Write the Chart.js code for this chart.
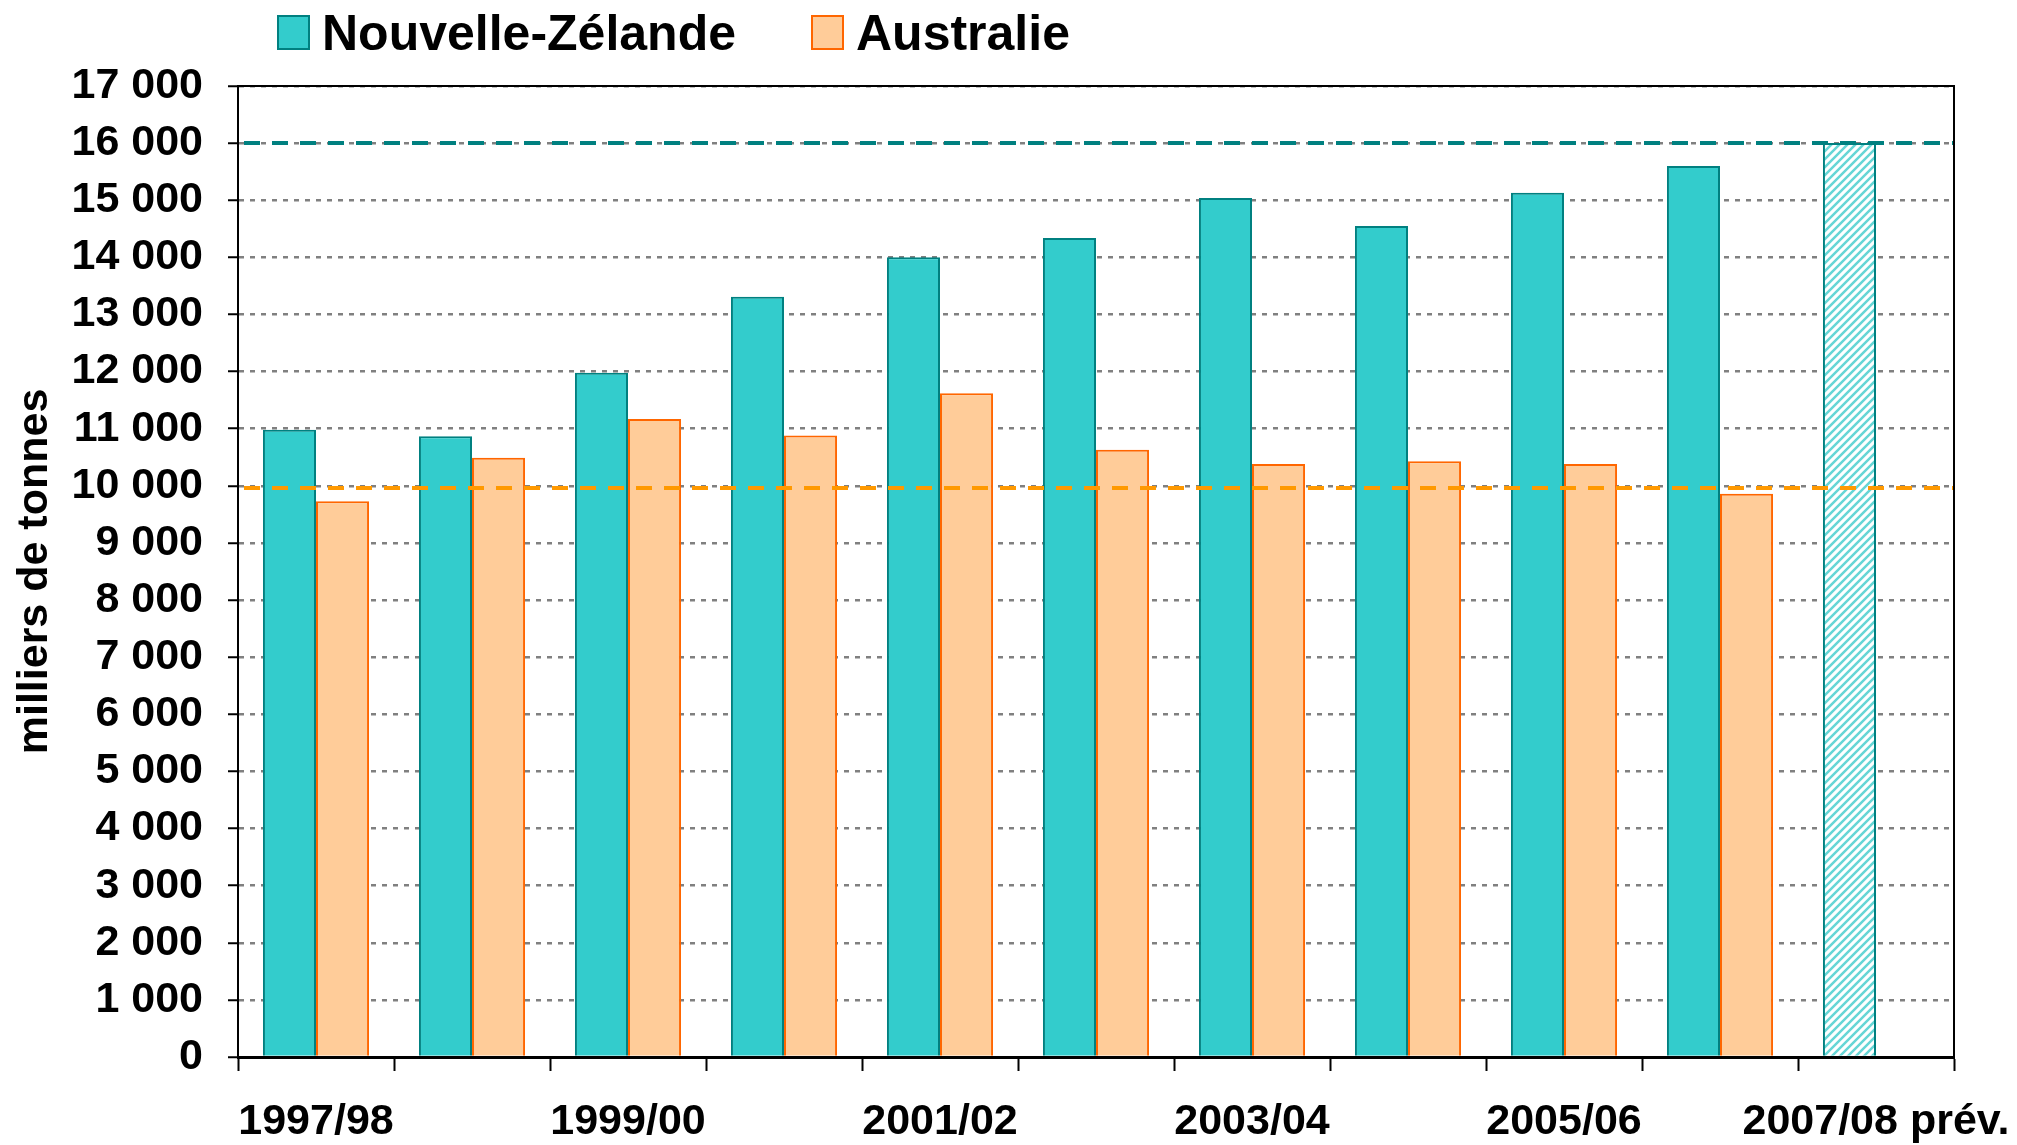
<!DOCTYPE html>
<html>
<head>
<meta charset="utf-8">
<title>Nouvelle-Zélande / Australie</title>
<script src="https://cdn.jsdelivr.net/npm/chart.js@4.4.1/dist/chart.umd.min.js"></script>
<style>
  html, body { margin: 0; padding: 0; background: #fff; }
</style>
</head>
<body>
<canvas id="graphique" width="2017" height="1145"></canvas>
<script>
// données (milliers de tonnes)
const categories = ['1997/98', '1998/99', '1999/00', '2000/01', '2001/02', '2002/03',
                    '2003/04', '2004/05', '2005/06', '2006/07', '2007/08 prév.'];
const etiquettesX = ['1997/98', '', '1999/00', '', '2001/02', '', '2003/04', '', '2005/06', '', '2007/08 prév.'];
const nouvelleZelande = [10980, 10870, 11980, 13310, 14000, 14340, 15040, 14550, 15130, 15600, 16000];
const australie = [9730, 10490, 11170, 10880, 11620, 10630, 10380, 10430, 10380, 9860, null];
const niveauxReference = [16000, 9960];
const ticksY = { min: 0, max: 17000, pas: 1000 };

const couleursReference = ['#008080', '#FF9900'];
const police = "'Liberation Sans', Arial, Helvetica, sans-serif";

Chart.defaults.font.family = police;
Chart.defaults.font.weight = 'bold';
Chart.defaults.color = '#000';

// hachures pour la prévision
function hachures() {
    const c = document.createElement('canvas');
    c.width = 8;
    c.height = 8;
    const g = c.getContext('2d');
    g.fillStyle = '#fff';
    g.fillRect(0, 0, 8, 8);
    g.strokeStyle = '#66D6D6';
    g.lineWidth = 2.5;
    g.beginPath();
    g.moveTo(0, 8); g.lineTo(8, 0);
    g.moveTo(-4, 4); g.lineTo(4, -4);
    g.moveTo(4, 12); g.lineTo(12, 4);
    g.stroke();
    return g.createPattern(c, 'repeat');
}

const ctx = document.getElementById('graphique').getContext('2d');
const motif = hachures();
const fondNZ = nouvelleZelande.map((v, i) => i === nouvelleZelande.length - 1 ? motif : '#33CCCC');

function milliers(v) {
    return String(v).replace(/\B(?=(\d{3})+(?!\d))/g, ' ');
}

// lignes de référence + cadre
const cadre = {
    id: 'cadre',
    afterDatasetsDraw(chart) {
        const { ctx, chartArea: a, scales: { y } } = chart;
        ctx.save();
        niveauxReference.forEach((v, i) => {
            const py = Math.round(y.getPixelForValue(v));
            ctx.strokeStyle = couleursReference[i];
            ctx.lineWidth = 4;
            ctx.setLineDash([16, 12]);
            ctx.beginPath();
            ctx.moveTo(a.left + 6, py);
            ctx.lineTo(a.right, py);
            ctx.stroke();
        });
        ctx.setLineDash([]);
        ctx.strokeStyle = '#000';
        ctx.lineWidth = 2;
        ctx.beginPath();
        ctx.moveTo(a.left, a.top);
        ctx.lineTo(a.right, a.top);
        ctx.lineTo(a.right, a.bottom);
        ctx.stroke();
        ctx.restore();
    }
};

// légende
const legende = {
    id: 'legende',
    afterDraw(chart) {
        const ctx = chart.ctx;
        const items = [
            { texte: 'Nouvelle-Zélande', fond: '#33CCCC', bord: '#008080', x: 278 },
            { texte: 'Australie', fond: '#FFCC99', bord: '#FF6600', x: 812 }
        ];
        ctx.save();
        ctx.font = 'bold 50px ' + police;
        ctx.textBaseline = 'middle';
        items.forEach(it => {
            ctx.fillStyle = it.fond;
            ctx.fillRect(it.x, 16, 31, 33);
            ctx.strokeStyle = it.bord;
            ctx.lineWidth = 2;
            ctx.strokeRect(it.x, 16, 31, 33);
            ctx.fillStyle = '#000';
            ctx.fillText(it.texte, it.x + 44, 36);
        });
        ctx.restore();
    }
};

new Chart(ctx, {
    type: 'bar',
    data: {
        labels: categories,
        datasets: [{
            label: 'Nouvelle-Zélande',
            data: nouvelleZelande,
            backgroundColor: fondNZ,
            borderColor: '#008080',
            borderWidth: 2,
            borderSkipped: 'bottom'
        }, {
            label: 'Australie',
            data: australie,
            backgroundColor: '#FFCC99',
            borderColor: '#FF6600',
            borderWidth: 2,
            borderSkipped: 'bottom'
        }]
    },
    options: {
        responsive: false,
        animation: false,
        devicePixelRatio: 1,
        layout: { padding: { top: 86, right: 63, left: 0, bottom: 0 } },
        datasets: { bar: { categoryPercentage: 0.68, barPercentage: 1.0 } },
        plugins: {
            legend: { display: false },
            tooltip: { enabled: false }
        },
        scales: {
            x: {
                grid: {
                    offset: true,
                    drawOnChartArea: false,
                    drawTicks: true,
                    tickLength: 14,
                    tickColor: '#000',
                    tickWidth: 2
                },
                border: { color: '#000', width: 3 },
                ticks: {
                    autoSkip: false,
                    maxRotation: 0,
                    padding: 25,
                    font: { size: 43, weight: 'bold' },
                    callback: (v, i) => etiquettesX[i]
                },
                afterFit: s => {
                    s.height = 88;
                    s.paddingLeft = 0;
                    s.paddingRight = 0;
                }
            },
            y: {
                min: ticksY.min,
                max: ticksY.max,
                ticks: {
                    stepSize: ticksY.pas,
                    padding: 25,
                    font: { size: 43, weight: 'bold' },
                    callback: v => milliers(v)
                },
                grid: {
                    color: '#808080',
                    lineWidth: 2.5,
                    tickLength: 10,
                    tickColor: '#000',
                    tickWidth: 2,
                    tickBorderDash: []
                },
                border: { color: '#000', width: 2, dash: [5, 6] },
                title: {
                    display: true,
                    text: 'milliers de tonnes',
                    font: { size: 43, weight: 'bold', lineHeight: 1.2 },
                    padding: { top: 9, bottom: 0 }
                },
                afterFit: s => { s.width = 238; }
            }
        }
    },
    plugins: [cadre, legende]
});
</script>
</body>
</html>
